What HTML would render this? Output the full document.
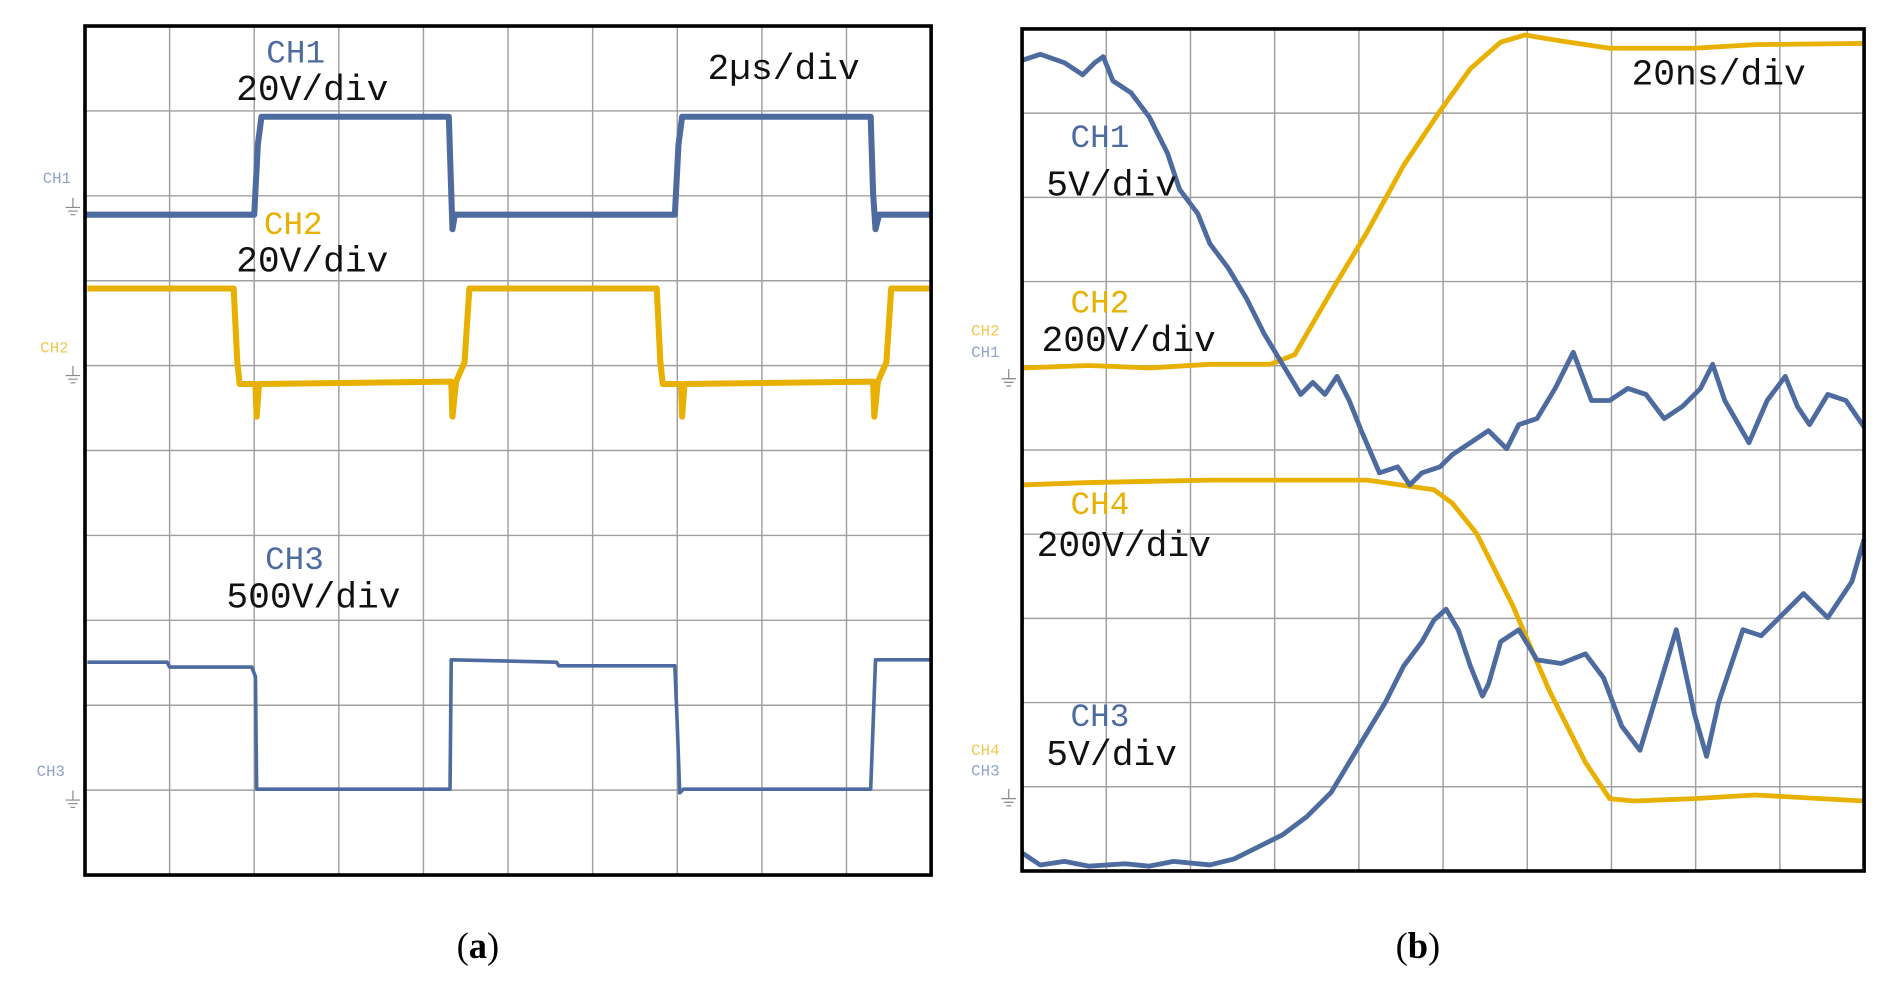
<!DOCTYPE html>
<html><head><meta charset="utf-8"><style>
html,body{margin:0;padding:0;background:#fff;}
svg{display:block}
.m{font-family:"Liberation Mono",monospace}
</style></head><body>
<svg width="1897" height="983" viewBox="0 0 1560 808.4" preserveAspectRatio="none" xmlns="http://www.w3.org/2000/svg">
<defs>
<g id="gnd" stroke="#888" stroke-width="1" fill="none"><path d="M0,-6 V2 M-6,2 H6 M-4,5 H4 M-2,8 H2"/></g>
</defs>
<!-- LEFT PLOT -->
<g transform="translate(69.9,21.4) scale(0.994,0.9946) translate(-70,-22)">
<g stroke="#a0a0a0" stroke-width="1.2">
<line x1="140" y1="22" x2="140" y2="724"/><line x1="210" y1="22" x2="210" y2="724"/><line x1="280" y1="22" x2="280" y2="724"/><line x1="350" y1="22" x2="350" y2="724"/><line x1="420" y1="22" x2="420" y2="724"/><line x1="490" y1="22" x2="490" y2="724"/><line x1="560" y1="22" x2="560" y2="724"/><line x1="630" y1="22" x2="630" y2="724"/><line x1="700" y1="22" x2="700" y2="724"/>
<line x1="70" y1="92.2" x2="770" y2="92.2"/><line x1="70" y1="162.4" x2="770" y2="162.4"/><line x1="70" y1="232.6" x2="770" y2="232.6"/><line x1="70" y1="302.8" x2="770" y2="302.8"/><line x1="70" y1="373" x2="770" y2="373"/><line x1="70" y1="443.2" x2="770" y2="443.2"/><line x1="70" y1="513.4" x2="770" y2="513.4"/><line x1="70" y1="583.6" x2="770" y2="583.6"/><line x1="70" y1="653.8" x2="770" y2="653.8"/>
</g>
<path d="M70,178 L210,178 L213,120 L216,97 L371,97 L373,160 L374,190 L376,178 L558,178 L561,120 L564,97 L720,97 L722,160 L724,190 L727,178 L770,178" fill="none" stroke="#4d6b9f" stroke-width="5" stroke-linejoin="round"/>
<path d="M72,239 L193,239 L196,300 L198,318 L211,318 L212,345 L214,318 L373,316 L374,345 L377,316 L384,300 L388,239 L543,239 L546,300 L548,318 L563,318 L564,345 L566,318 L722,316 L723,345 L726,316 L733,300 L737,239 L770,239" fill="none" stroke="#e8b000" stroke-width="5" stroke-linejoin="round"/>
<path d="M72,548 L138,548 L140,552 L208,552 L211,560 L212,653 L372,653 L373,546 L460,548 L462,551 L558,551 L560,600 L562,656 L565,653 L720,653 L722,600 L724,546 L770,546" fill="none" stroke="#4d6b9f" stroke-width="3" stroke-linejoin="round"/>
<rect x="70" y="22" width="700" height="702" fill="none" stroke="#000" stroke-width="3"/>
<text class="m" x="35" y="152" font-size="13" fill="#8fa3c8">CH1</text><use href="#gnd" x="60" y="170"/>
<text class="m" x="33" y="292" font-size="13" fill="#f0c850">CH2</text><use href="#gnd" x="60" y="309"/>
<text class="m" x="30" y="642" font-size="13" fill="#8fa3c8">CH3</text><use href="#gnd" x="60" y="660"/>
<text class="m" x="220" y="52" font-size="27" fill="#4d6b9f">CH1</text>
<text class="m" x="195" y="83" font-size="30" fill="#111">20V/div</text>
<text class="m" x="585" y="66" font-size="30" fill="#111">2µs/div</text>
<text class="m" x="218" y="194" font-size="27" fill="#e8b000">CH2</text>
<text class="m" x="195" y="225" font-size="30" fill="#111">20V/div</text>
<text class="m" x="219" y="471" font-size="27" fill="#4d6b9f">CH3</text>
<text class="m" x="187" y="503" font-size="30" fill="#111">500V/div</text>
</g>
<!-- RIGHT PLOT -->
<g transform="translate(840.5,23.8) scale(0.9963,0.9921) translate(-845,-22)">
<g stroke="#a0a0a0" stroke-width="1.2">
<line x1="914.5" y1="22" x2="914.5" y2="720"/><line x1="984" y1="22" x2="984" y2="720"/><line x1="1053.5" y1="22" x2="1053.5" y2="720"/><line x1="1123" y1="22" x2="1123" y2="720"/><line x1="1192.5" y1="22" x2="1192.5" y2="720"/><line x1="1262" y1="22" x2="1262" y2="720"/><line x1="1331.5" y1="22" x2="1331.5" y2="720"/><line x1="1401" y1="22" x2="1401" y2="720"/><line x1="1470.5" y1="22" x2="1470.5" y2="720"/>
<line x1="845" y1="91.8" x2="1540" y2="91.8"/><line x1="845" y1="161.6" x2="1540" y2="161.6"/><line x1="845" y1="231.4" x2="1540" y2="231.4"/><line x1="845" y1="301.2" x2="1540" y2="301.2"/><line x1="845" y1="371" x2="1540" y2="371"/><line x1="845" y1="440.8" x2="1540" y2="440.8"/><line x1="845" y1="510.6" x2="1540" y2="510.6"/><line x1="845" y1="580.4" x2="1540" y2="580.4"/><line x1="845" y1="650.2" x2="1540" y2="650.2"/>
</g>
<g fill="none" stroke-width="4" stroke-linejoin="round">
<path stroke="#e8b000" d="M845,303 L900,301 L950,303 L1000,300 L1050,300 L1070,292 L1100,240 L1130,190 L1160,135 L1190,90 L1215,55 L1240,33 L1260,27 L1290,32 L1330,38 L1400,38 L1450,35 L1540,34"/>
<path stroke="#e8b000" d="M845,400 L900,398 L1000,396 L1130,396 L1185,404 L1200,415 L1220,440 L1250,500 L1280,570 L1310,630 L1330,660 L1350,662 L1400,660 L1450,657 L1540,662"/>
<path stroke="#4d6b9f" d="M845,48 L860,43 L880,50 L895,60 L905,50 L912,45 L920,65 L935,75 L950,95 L965,125 L975,155 L990,175 L1000,200 L1015,220 L1030,245 L1045,275 L1060,300 L1075,325 L1085,315 L1095,325 L1105,310 L1115,330 L1125,355 L1140,390 L1155,385 L1165,400 L1175,390 L1190,385 L1200,375 L1215,365 L1230,355 L1245,370 L1255,350 L1270,345 L1285,320 L1300,290 L1315,330 L1330,330 L1345,320 L1360,325 L1375,345 L1390,335 L1405,320 L1415,300 L1425,330 L1445,365 L1460,330 L1475,310 L1485,335 L1495,350 L1510,325 L1525,330 L1540,352"/>
<path stroke="#4d6b9f" d="M845,705 L860,715 L880,712 L900,716 L930,714 L950,716 L970,712 L1000,715 L1020,710 L1040,700 L1060,690 L1080,675 L1100,655 L1115,630 L1130,605 L1145,580 L1160,550 L1175,530 L1185,512 L1195,503 L1205,520 L1215,550 L1225,575 L1230,565 L1240,530 L1255,520 L1270,545 L1290,548 L1310,540 L1325,560 L1340,600 L1355,620 L1370,570 L1385,520 L1400,590 L1410,625 L1420,580 L1440,520 L1455,525 L1470,510 L1490,490 L1510,510 L1530,480 L1540,445"/>
</g>
<rect x="845" y="22" width="695" height="698" fill="none" stroke="#000" stroke-width="3"/>
<text class="m" x="803" y="276" font-size="13" fill="#f0c850">CH2</text>
<text class="m" x="803" y="294" font-size="13" fill="#8fa3c8">CH1</text><use href="#gnd" x="834" y="310"/>
<text class="m" x="803" y="624" font-size="13" fill="#f0c850">CH4</text>
<text class="m" x="803" y="641" font-size="13" fill="#8fa3c8">CH3</text><use href="#gnd" x="834" y="658"/>
<text class="m" x="885" y="120" font-size="27" fill="#4d6b9f">CH1</text>
<text class="m" x="865" y="160" font-size="30" fill="#111">5V/div</text>
<text class="m" x="1348" y="68" font-size="30" fill="#111">20ns/div</text>
<text class="m" x="885" y="257" font-size="27" fill="#e8b000">CH2</text>
<text class="m" x="861" y="289" font-size="30" fill="#111">200V/div</text>
<text class="m" x="885" y="424" font-size="27" fill="#e8b000">CH4</text>
<text class="m" x="857" y="459" font-size="30" fill="#111">200V/div</text>
<text class="m" x="885" y="600" font-size="27" fill="#4d6b9f">CH3</text>
<text class="m" x="865" y="632" font-size="30" fill="#111">5V/div</text>
</g>
<text x="393" y="788" font-family="Liberation Serif,serif" font-size="30" text-anchor="middle" fill="#000">(<tspan font-weight="bold">a</tspan>)</text>
<text x="1166" y="788" font-family="Liberation Serif,serif" font-size="30" text-anchor="middle" fill="#000">(<tspan font-weight="bold">b</tspan>)</text>
</svg>
</body></html>
